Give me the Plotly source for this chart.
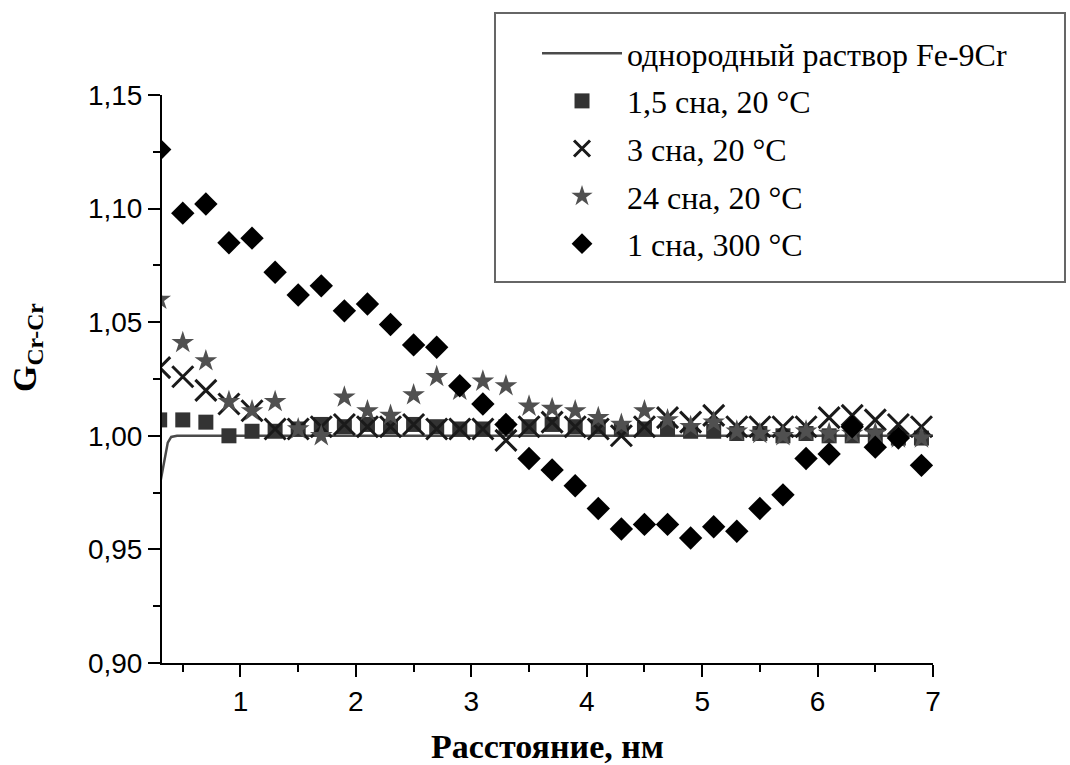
import plotly.graph_objects as go

# distance, nm
x_pts = [0.3, 0.5, 0.7, 0.9, 1.1, 1.3, 1.5, 1.7, 1.9, 2.1,
         2.3, 2.5, 2.7, 2.9, 3.1, 3.3, 3.5, 3.7, 3.9, 4.1,
         4.3, 4.5, 4.7, 4.9, 5.1, 5.3, 5.5, 5.7, 5.9, 6.1,
         6.3, 6.5, 6.7, 6.9]

g_1_5dpa_20C = [1.007, 1.007, 1.006, 1.000, 1.002, 1.002, 1.003, 1.005, 1.004, 1.005,
                1.004, 1.005, 1.004, 1.003, 1.003, 1.004, 1.004, 1.005, 1.004, 1.004,
                1.003, 1.003, 1.003, 1.002, 1.002, 1.001, 1.001, 1.000, 1.001, 1.000,
                1.000, 1.000, 0.999, 0.999]

g_3dpa_20C = [1.030, 1.026, 1.020, 1.014, 1.011, 1.003, 1.003, 1.004, 1.005, 1.004,
              1.004, 1.005, 1.003, 1.003, 1.003, 0.998, 1.004, 1.006, 1.004, 1.003,
              1.000, 1.004, 1.008, 1.006, 1.009, 1.004, 1.004, 1.004, 1.004, 1.008,
              1.009, 1.007, 1.005, 1.004]

g_24dpa_20C = [1.060, 1.041, 1.033, 1.015, 1.011, 1.015, 1.003, 1.000, 1.017, 1.011,
               1.009, 1.018, 1.026, 1.020, 1.024, 1.022, 1.013, 1.012, 1.011, 1.008,
               1.005, 1.011, 1.007, 1.004, 1.006, 1.002, 1.001, 1.000, 1.002, 1.001,
               1.001, 1.001, 0.999, 0.999]

g_1dpa_300C = [1.126, 1.098, 1.102, 1.085, 1.087, 1.072, 1.062, 1.066, 1.055, 1.058,
               1.049, 1.040, 1.039, 1.022, 1.014, 1.005, 0.990, 0.985, 0.978, 0.968,
               0.959, 0.961, 0.961, 0.955, 0.960, 0.958, 0.968, 0.974, 0.990, 0.992,
               1.004, 0.995, 0.999, 0.987]

# homogeneous solution reference curve
line_x = [0.30, 0.33, 0.35, 0.37, 0.40, 0.45, 7.0]
line_y = [0.978, 0.986, 0.993, 0.997, 0.9995, 1.000, 1.000]

names = ["однородный раствор Fe-9Cr", "1,5 сна, 20 °C", "3 сна, 20 °C",
         "24 сна, 20 °C", "1 сна, 300 °C"]

x_ticks = [1, 2, 3, 4, 5, 6, 7]
y_ticks = [0.90, 0.95, 1.00, 1.05, 1.10, 1.15]

SERIF = "Liberation Serif, Times New Roman, serif"
SANS = "Liberation Sans, Arial, sans-serif"

fig = go.Figure()
fig.add_trace(go.Scatter(x=line_x, y=line_y, mode="lines", name=names[0],
                         line=dict(color="#4a4a4a", width=2.5), legendgroup="a"))
fig.add_trace(go.Scatter(x=x_pts, y=g_1_5dpa_20C, mode="markers", name=names[1],
                         marker=dict(symbol="square", size=15, color="#333333"),
                         legendgroup="b"))
fig.add_trace(go.Scatter(x=x_pts, y=g_3dpa_20C, mode="markers", name=names[2],
                         marker=dict(symbol="x-thin-open", size=21, color="#1a1a1a",
                                     line=dict(width=3, color="#1a1a1a")),
                         legendgroup="c"))
fig.add_trace(go.Scatter(x=x_pts, y=g_24dpa_20C, mode="markers", name=names[3],
                         marker=dict(symbol="star", size=17, color="#505050"),
                         legendgroup="d"))
fig.add_trace(go.Scatter(x=x_pts, y=g_1dpa_300C, mode="markers", name=names[4],
                         marker=dict(symbol="diamond", size=18, color="#000000"),
                         legendgroup="e"))

axis_common = dict(showgrid=False, zeroline=False, showline=True, linecolor="black",
                   linewidth=2, ticks="outside", ticklen=12, tickwidth=2,
                   tickcolor="black", automargin=False,
                   tickfont=dict(family=SANS, size=28, color="black"))

fig.update_xaxes(range=[0.32, 7.0], tickvals=x_ticks, ticktext=[str(v) for v in x_ticks],
                 minor=dict(tick0=0.5, dtick=1, ticks="outside", ticklen=7,
                            tickwidth=2, tickcolor="black"),
                 title=dict(text="Расстояние, нм", standoff=25,
                            font=dict(family=SERIF, size=34, color="black", weight="bold")),
                 **axis_common)
fig.update_yaxes(range=[0.90, 1.15], tickvals=y_ticks,
                 ticktext=[f"{v:.2f}".replace(".", ",") for v in y_ticks],
                 minor=dict(tick0=0.925, dtick=0.05, ticks="outside", ticklen=7,
                            tickwidth=2, tickcolor="black"),
                 **axis_common)

# y-axis title (rotated), placed like the original
fig.add_annotation(text="G<sub>Cr-Cr</sub>", textangle=-90, showarrow=False,
                   xref="paper", yref="paper", x=-0.176, y=0.555,
                   xanchor="center", yanchor="middle",
                   font=dict(family=SERIF, size=34, color="black", weight="bold"))

# legend frame
fig.add_shape(type="rect", xref="paper", yref="paper",
              x0=0.4319, x1=1.1712, y0=0.6708, y1=1.1444,
              line=dict(color="#666666", width=2), fillcolor="white", layer="above")

fig.update_layout(
    width=1070, height=765,
    margin=dict(l=162, r=137, t=95, b=102),
    paper_bgcolor="white", plot_bgcolor="white",
    legend=dict(x=0.4864, y=1.1215, xanchor="left", yanchor="top",
                bgcolor="rgba(0,0,0,0)", borderwidth=0,
                font=dict(family=SERIF, size=32, color="black"),
                tracegroupgap=3, itemwidth=80),
    showlegend=True,
)

fig.write_html("out.html")
